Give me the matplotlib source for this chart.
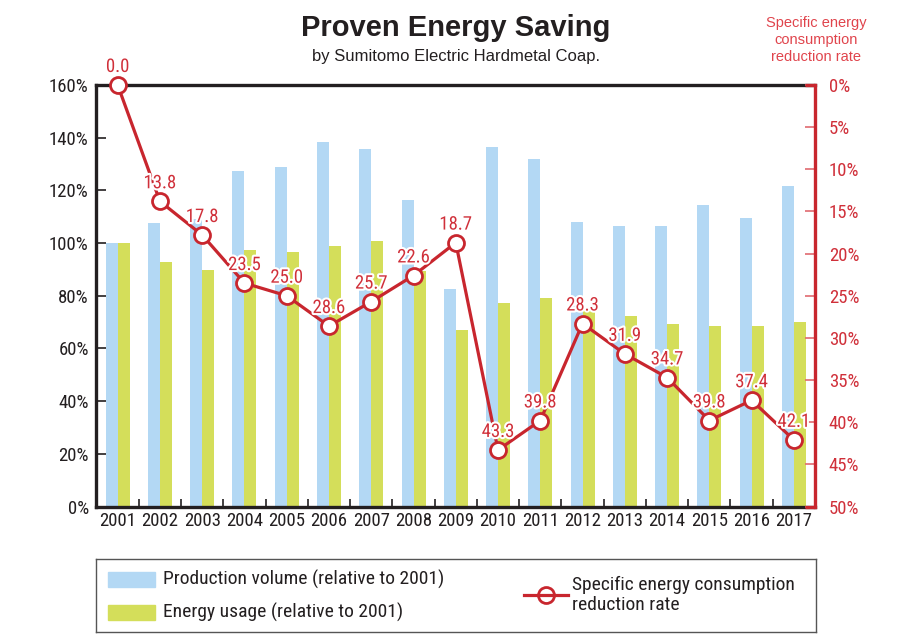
import matplotlib
matplotlib.use('Agg')
import matplotlib.pyplot as plt
import matplotlib.patheffects as pe
from matplotlib import font_manager
from matplotlib.patches import Rectangle
from matplotlib.lines import Line2D
import numpy as np

# data
years = ['2001', '2002', '2003', '2004', '2005', '2006', '2007', '2008', '2009',
         '2010', '2011', '2012', '2013', '2014', '2015', '2016', '2017']
production = [100, 107.5, 109, 127.3, 128.7, 138.3, 135.8, 116.3, 82.4,
              136.4, 132, 108, 106.4, 106.4, 114.4, 109.5, 121.5]
energy = [100, 92.7, 89.7, 97.3, 96.5, 98.7, 100.7, 89.5, 66.9,
          77.3, 79.3, 75, 72.2, 69.4, 68.7, 68.5, 70.2]
reduction = [0.0, 13.8, 17.8, 23.5, 25.0, 28.6, 25.7, 22.6, 18.7,
             43.3, 39.8, 28.3, 31.9, 34.7, 39.8, 37.4, 42.1]
left_ticks = [0, 20, 40, 60, 80, 100, 120, 140, 160]
right_ticks = [0, 5, 10, 15, 20, 25, 30, 35, 40, 45, 50]

BLUE = '#b3d8f4'
GREEN = '#d4de5a'
RED = '#c8262e'
RED_TXT = '#d0303a'
RED_LIGHT = '#e0444c'
DARK = '#231f20'

installed = {f.name for f in font_manager.fontManager.ttflist}


def pick(*names):
    for n in names:
        if n in installed:
            return n
    return 'DejaVu Sans'


NARROW = pick('Roboto Condensed', 'Archivo Narrow', 'PT Sans Narrow', 'Liberation Sans')
SANS = pick('Liberation Sans', 'Arial', 'DejaVu Sans')

W, H = 924, 643
fig = plt.figure(figsize=(W / 100, H / 100), dpi=100)

x0, x1, ytop, ybot = 95.7, 815, 85, 506.5
ax = fig.add_axes([x0 / W, 1 - ybot / H, (x1 - x0) / W, (ybot - ytop) / H])
x = np.arange(len(years))
bw = 0.284
ax.bar(x - bw / 2, production, bw, color=BLUE, zorder=2)
ax.bar(x + bw / 2, energy, bw, color=GREEN, zorder=2)
ax.set_xlim(-0.52, len(years) - 0.5)
ax.set_ylim(0, 160)

ax.set_yticks(left_ticks)
ax.set_yticklabels([f'{t}%' for t in left_ticks], fontfamily=NARROW, fontsize=13.5, color=DARK)
ax.tick_params(axis='y', direction='in', length=7, width=1.2, color=DARK, pad=5)
ax.set_xticks(x)
ax.set_xticklabels(years, fontfamily=NARROW, fontsize=13.5, color=DARK)
ax.set_xticks(np.arange(len(years) - 1) + 0.5, minor=True)
ax.tick_params(axis='x', which='major', length=0, pad=4)
ax.tick_params(axis='x', which='minor', direction='in', length=6, width=1.2, color=DARK)

for side in ['top', 'left', 'bottom']:
    ax.spines[side].set_linewidth(2.4)
    ax.spines[side].set_color(DARK)
ax.spines['right'].set_visible(False)

ax2 = ax.twinx()
ax2.set_ylim(50, 0)
ax2.plot(x, reduction, color=RED, lw=2.3, marker='o', ms=11.5,
         mfc='white', mec=RED, mew=2, zorder=5, clip_on=False)
for xi, v in zip(x, reduction):
    ax2.annotate(f'{v:.1f}', (xi, v), xytext=(0, 13), textcoords='offset points',
                 ha='center', va='center', fontfamily=NARROW, fontsize=13.5,
                 color=RED_TXT, zorder=6,
                 path_effects=[pe.withStroke(linewidth=3, foreground='white')])
ax2.set_yticks(right_ticks)
ax2.set_yticklabels([f'{t}%' for t in right_ticks], fontfamily=NARROW, fontsize=13.5, color=RED_TXT)
ax2.tick_params(axis='y', direction='in', length=7, width=1.2, color='#e06a70', pad=10)
for side in ['top', 'left', 'bottom']:
    ax2.spines[side].set_visible(False)
ax2.spines['right'].set_linewidth(2.4)
ax2.spines['right'].set_color(RED)
# the frame turns red just before the right axis
for yy in (0, 1):
    ax2.add_line(Line2D([0.986, 1.0], [yy, yy], transform=ax2.transAxes, color=RED,
                        lw=2.4, solid_capstyle='butt', clip_on=False, zorder=4))
ax.set_zorder(1)
ax2.set_zorder(2)

# titles
fig.text(456 / W, 1 - 28 / H, 'Proven Energy Saving', ha='center', va='center',
         fontfamily=SANS, fontsize=21, fontweight='bold', color=DARK)
fig.text(456 / W, 1 - 57 / H, 'by Sumitomo Electric Hardmetal Coap.', ha='center',
         va='center', fontfamily=SANS, fontsize=12, color=DARK)
fig.text(816 / W, 1 - 40 / H, 'Specific energy\nconsumption\nreduction rate',
         ha='center', va='center', fontfamily=SANS, fontsize=10.5, color=RED_LIGHT,
         linespacing=1.25)

# legend box, drawn in pixel units
lx0, ly0, lw, lh = 96, 559, 720, 73
lax = fig.add_axes([lx0 / W, 1 - (ly0 + lh) / H, lw / W, lh / H])
lax.set_xlim(0, lw)
lax.set_ylim(lh, 0)
lax.set_xticks([])
lax.set_yticks([])
for s in lax.spines.values():
    s.set_color('#555555')
    s.set_linewidth(1)
lax.add_patch(Rectangle((12, 13), 47, 15, color=BLUE))
lax.add_patch(Rectangle((12, 46), 47, 15, color=GREEN))
lax.text(67, 20.5, 'Production volume (relative to 2001)', va='center',
         fontfamily=NARROW, fontsize=14, color=DARK)
lax.text(67, 53.5, 'Energy usage (relative to 2001)', va='center',
         fontfamily=NARROW, fontsize=14, color=DARK)
lax.add_line(Line2D([428, 472], [36, 36], color=RED, lw=2.3, zorder=3))
lax.plot([450], [36], marker='o', ms=11.5, mfc='white', mec=RED, mew=2)
lax.text(476, 36, 'Specific energy consumption\nreduction rate', va='center',
         fontfamily=NARROW, fontsize=14, color=DARK, linespacing=1.1)

fig.savefig('out.png', dpi=100)
